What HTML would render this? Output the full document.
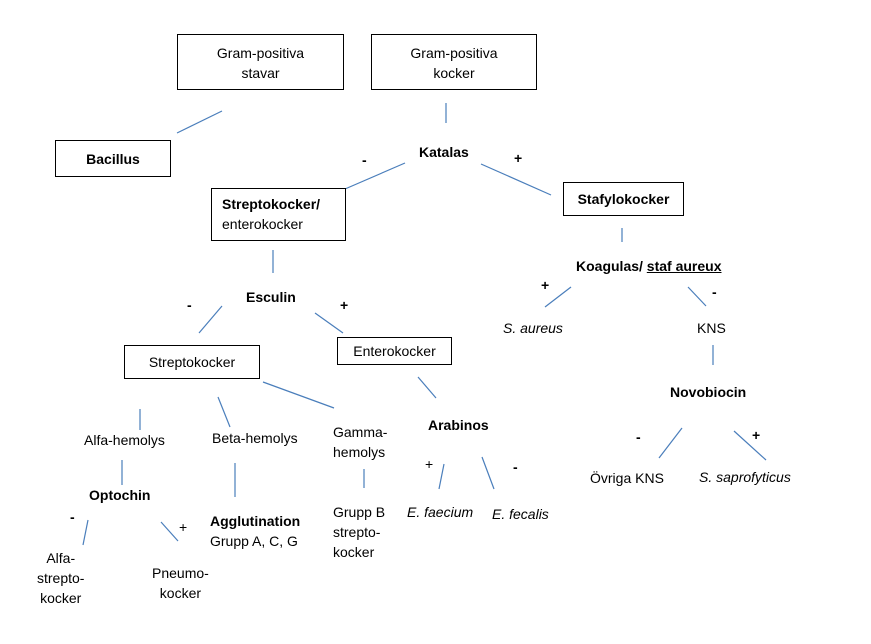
<!DOCTYPE html>
<html><head><meta charset="utf-8"><style>
body{margin:0;width:871px;height:644px;background:#fff;position:relative;overflow:hidden;font-family:"Liberation Sans",sans-serif;font-size:14px;color:#000}
.t{position:absolute;line-height:20px;white-space:nowrap}
.b{font-weight:bold}.i{font-style:italic}
.box{position:absolute;border:1px solid #000;box-sizing:border-box;text-align:center;line-height:20px}
svg{position:absolute;left:0;top:0}
</style></head><body>
<svg width="871" height="644"><g stroke="#4a7ebb" stroke-width="1.2" fill="none">
<line x1="222" y1="111" x2="177" y2="133"/>
<line x1="446" y1="103" x2="446" y2="123"/>
<line x1="405" y1="163" x2="345" y2="189"/>
<line x1="481" y1="164" x2="551" y2="195"/>
<line x1="622" y1="228" x2="622" y2="242"/>
<line x1="273" y1="250" x2="273" y2="273"/>
<line x1="222" y1="306" x2="199" y2="333"/>
<line x1="315" y1="313" x2="343" y2="333"/>
<line x1="571" y1="287" x2="545" y2="307"/>
<line x1="688" y1="287" x2="706" y2="306"/>
<line x1="713" y1="345" x2="713" y2="365"/>
<line x1="263" y1="382" x2="334" y2="408"/>
<line x1="140" y1="409" x2="140" y2="430"/>
<line x1="218" y1="397" x2="230" y2="427"/>
<line x1="418" y1="377" x2="436" y2="398"/>
<line x1="122" y1="460" x2="122" y2="485"/>
<line x1="235" y1="463" x2="235" y2="497"/>
<line x1="364" y1="469" x2="364" y2="488"/>
<line x1="444" y1="464" x2="439" y2="489"/>
<line x1="482" y1="457" x2="494" y2="489"/>
<line x1="682" y1="428" x2="659" y2="458"/>
<line x1="734" y1="431" x2="766" y2="460"/>
<line x1="88" y1="520" x2="83" y2="545"/>
<line x1="161" y1="522" x2="178" y2="541"/>
</g></svg>
<div class="box" style="left:177px;top:34px;width:167px;height:56px;padding-top:8px">Gram-positiva<br>stavar</div>
<div class="box" style="left:371px;top:34px;width:166px;height:56px;padding-top:8px">Gram-positiva<br>kocker</div>
<div class="box b" style="left:55px;top:140px;width:116px;height:37px;padding-top:8px">Bacillus</div>
<div class="box" style="left:211px;top:188px;width:135px;height:53px;padding-top:5px;text-align:left;padding-left:10px"><b>Streptokocker/</b><br>enterokocker</div>
<div class="box b" style="left:563px;top:182px;width:121px;height:34px;padding-top:6px">Stafylokocker</div>
<div class="box" style="left:124px;top:345px;width:136px;height:34px;padding-top:6px">Streptokocker</div>
<div class="box" style="left:337px;top:337px;width:115px;height:28px;padding-top:3px">Enterokocker</div>
<div class="t b" style="left:419px;top:142px">Katalas</div>
<div class="t b" style="left:362px;top:150px">-</div>
<div class="t b" style="left:514px;top:148px">+</div>
<div class="t b" style="left:576px;top:256px">Koagulas/ <u>staf aureux</u></div>
<div class="t b" style="left:246px;top:287px">Esculin</div>
<div class="t b" style="left:187px;top:295px">-</div>
<div class="t b" style="left:340px;top:295px">+</div>
<div class="t b" style="left:541px;top:275px">+</div>
<div class="t b" style="left:712px;top:282px">-</div>
<div class="t i" style="left:503px;top:318px">S. aureus</div>
<div class="t" style="left:697px;top:318px">KNS</div>
<div class="t b" style="left:670px;top:382px">Novobiocin</div>
<div class="t b" style="left:636px;top:427px">-</div>
<div class="t b" style="left:752px;top:425px">+</div>
<div class="t" style="left:590px;top:468px">Övriga KNS</div>
<div class="t i" style="left:699px;top:467px">S. saprofyticus</div>
<div class="t" style="left:84px;top:430px">Alfa-hemolys</div>
<div class="t" style="left:212px;top:428px">Beta-hemolys</div>
<div class="t" style="left:333px;top:422px">Gamma-<br>hemolys</div>
<div class="t b" style="left:428px;top:415px">Arabinos</div>
<div class="t" style="left:425px;top:454px">+</div>
<div class="t b" style="left:513px;top:457px">-</div>
<div class="t i" style="left:407px;top:502px">E. faecium</div>
<div class="t i" style="left:492px;top:504px">E. fecalis</div>
<div class="t b" style="left:89px;top:485px">Optochin</div>
<div class="t b" style="left:70px;top:507px">-</div>
<div class="t" style="left:179px;top:517px">+</div>
<div class="t" style="left:210px;top:511px"><b>Agglutination</b><br>Grupp A, C, G</div>
<div class="t" style="left:333px;top:502px">Grupp B<br>strepto-<br>kocker</div>
<div class="t" style="left:37px;top:548px;text-align:center">Alfa-<br>strepto-<br>kocker</div>
<div class="t" style="left:152px;top:563px;text-align:center">Pneumo-<br>kocker</div>
</body></html>
